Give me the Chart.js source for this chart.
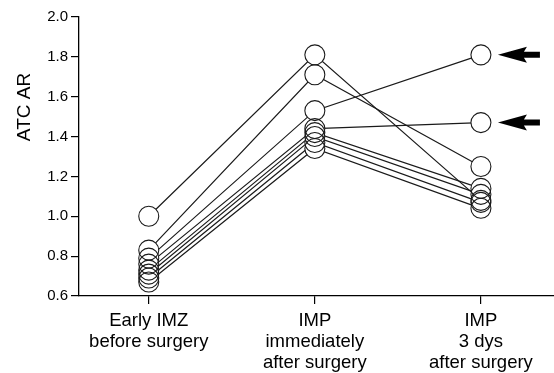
<!DOCTYPE html>
<html>
<head>
<meta charset="utf-8">
<script src="https://cdn.jsdelivr.net/npm/chart.js@4/dist/chart.umd.min.js"></script>
<style>
html,body{margin:0;padding:0;background:#fff;}
#wrap{width:554px;height:373px;position:relative;}
</style>
</head>
<body>
<div id="wrap"><canvas id="c" width="554" height="373"></canvas></div>
<script>
// Category labels (x positions 0,1,2)
const categories = [
  ["Early IMZ", "before surgery"],
  ["IMP", "immediately", "after surgery"],
  ["IMP", "3 dys", "after surgery"]
];
// One series per subject: [early IMZ, IMP immediately, IMP 3 days]
const subjectA = [1.00, 1.81, 1.08];
const subjectB = [0.83, 1.71, 1.25];
const subjectC = [0.79, 1.53, 1.81];
const subjectD = [0.76, 1.44, 1.47];
const subjectE = [0.73, 1.42, 1.14];
const subjectF = [0.71, 1.40, 1.11];
const subjectG = [0.69, 1.37, 1.07];
const subjectH = [0.67, 1.34, 1.04];
const subjects = [subjectA, subjectB, subjectC, subjectD, subjectE, subjectF, subjectG, subjectH];
// Subjects marked with arrows at the 3-day point
const arrowValues = [1.81, 1.47];
const yTicks = [0.6, 0.8, 1.0, 1.2, 1.4, 1.6, 1.8, 2.0];
const yTitle = 'ATC AR';

const FONT = "'Liberation Sans', Arial, sans-serif";

const lineSets = subjects.map(s => ({
  type: 'line',
  data: s.map((v, i) => ({x: i, y: v})),
  borderColor: '#1a1a1a',
  borderWidth: 1.2,
  pointRadius: 0,
  fill: false,
  order: 3
}));
const allPts = [];
subjects.forEach(s => s.forEach((v, i) => allPts.push({x: i, y: v})));
const fillSet = {
  type: 'scatter', data: allPts, pointRadius: 10, pointBackgroundColor: '#fff',
  pointBorderWidth: 0, pointBorderColor: 'rgba(0,0,0,0)', order: 2
};
const ringSet = {
  type: 'scatter', data: allPts, pointRadius: 10, pointBackgroundColor: 'rgba(0,0,0,0)',
  pointBorderWidth: 1.1, pointBorderColor: '#1a1a1a', order: 1
};

const arrowPlugin = {
  id: 'arrows',
  afterDatasetsDraw(chart) {
    const ctx = chart.ctx, xs = chart.scales.x, ys = chart.scales.y;
    const px = xs.getPixelForValue(2);
    ctx.save();
    ctx.fillStyle = '#000';
    arrowValues.forEach(v => {
      const y = ys.getPixelForValue(v);
      const tip = px + 17;
      ctx.beginPath();
      ctx.moveTo(tip, y);
      ctx.lineTo(tip + 29, y - 8);
      ctx.lineTo(tip + 26, y - 3);
      ctx.lineTo(tip + 42, y - 3);
      ctx.lineTo(tip + 42, y + 3);
      ctx.lineTo(tip + 26, y + 3);
      ctx.lineTo(tip + 29, y + 8);
      ctx.closePath();
      ctx.fill();
    });
    ctx.restore();
  }
};

const titlePlugin = {
  id: 'ytitle',
  afterDraw(chart) {
    const ctx = chart.ctx, ca = chart.chartArea;
    ctx.save();
    ctx.translate(25, ca.top + 90);
    ctx.rotate(-Math.PI / 2);
    ctx.fillStyle = '#000';
    ctx.font = "19px " + FONT;
    ctx.textAlign = 'center';
    ctx.textBaseline = 'middle';
    ctx.fillText(yTitle, 0, 0);
    ctx.restore();
  }
};

new Chart(document.getElementById('c'), {
  data: { datasets: [...lineSets, fillSet, ringSet] },
  options: {
    responsive: false,
    animation: false,
    events: [],
    layout: { autoPadding: false, padding: { top: 17, right: 0, left: 0, bottom: 0 } },
    plugins: { legend: { display: false }, tooltip: { enabled: false } },
    scales: {
      x: {
        type: 'linear', min: -0.42, max: 2.44,
        afterBuildTicks: s => { s.ticks = [0, 1, 2].map(v => ({value: v})); },
        afterFit: s => { s.height = 77; s.paddingLeft = 0; s.paddingRight = 0; },
        ticks: {
          callback: v => categories[v] || '',
          color: '#000', font: { family: FONT, size: 18.5, lineHeight: 1.15 }, maxRotation: 0, autoSkip: false,
          padding: 6
        },
        grid: { drawOnChartArea: false, tickLength: 8, color: '#000', lineWidth: 1.2 },
        border: { color: '#000', width: 1.3 }
      },
      y: {
        type: 'linear', min: 0.6, max: 2.0,
        afterBuildTicks: s => { s.ticks = yTicks.map(v => ({value: v})); },
        afterFit: s => { s.width = 79; },
        ticks: {
          callback: v => v.toFixed(1),
          color: '#000', font: { family: FONT, size: 15 }, padding: 3
        },
        grid: { drawOnChartArea: false, tickLength: 8, color: '#000', lineWidth: 1.2 },
        border: { color: '#000', width: 1.3 }
      }
    }
  },
  plugins: [arrowPlugin, titlePlugin]
});
</script>
</body>
</html>
